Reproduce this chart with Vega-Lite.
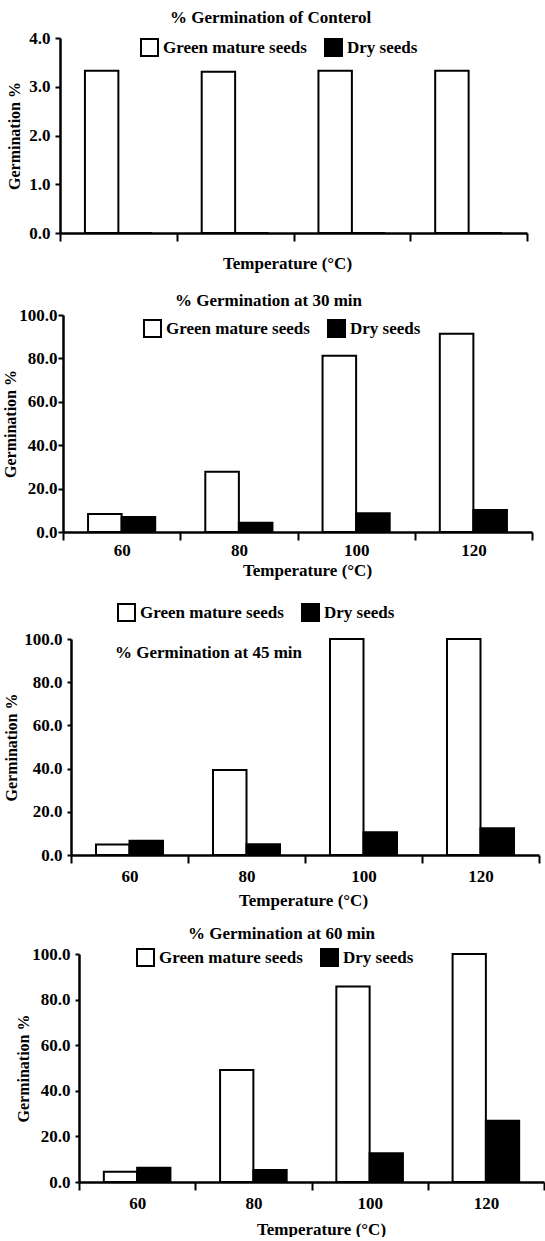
{
  "$schema": "https://vega.github.io/schema/vega-lite/v6.json",
  "background": "white",
  "padding": {"left": 2, "top": 9, "right": 0, "bottom": 0},
  "spacing": 0,
  "bounds": "flush",
  "config": {
    "font": "Liberation Serif",
    "view": {"stroke": null},
    "axis": {
      "domainColor": "black", "domainWidth": 2.5,
      "tickColor": "black", "tickWidth": 2,
      "labelFont": "Liberation Serif", "labelFontWeight": "bold", "labelColor": "black", "labelFontSize": 17,
      "titleFont": "Liberation Serif", "titleFontWeight": "bold", "titleColor": "black", "titleFontSize": 17,
      "grid": false
    },
    "legend": {
      "orient": "none", "direction": "horizontal", "title": null,
      "symbolType": "square", "symbolSize": 289, "symbolStrokeColor": "black", "symbolStrokeWidth": 2,
      "labelFont": "Liberation Serif", "labelFontSize": 17, "labelFontWeight": "bold", "labelColor": "black",
      "labelLimit": 300, "columnPadding": 14, "labelOffset": 4, "padding": 0
    },
    "title": {"font": "Liberation Serif", "fontSize": 17, "fontWeight": "bold", "color": "black", "anchor": "start", "frame": "group", "offset": 0, "baseline": "alphabetic"}
  },
  "data": {"values": [
    {"panel": "control", "temp": 60, "type": "Green mature seeds", "value": 3.33},
    {"panel": "control", "temp": 60, "type": "Dry seeds", "value": 0},
    {"panel": "control", "temp": 80, "type": "Green mature seeds", "value": 3.31},
    {"panel": "control", "temp": 80, "type": "Dry seeds", "value": 0},
    {"panel": "control", "temp": 100, "type": "Green mature seeds", "value": 3.33},
    {"panel": "control", "temp": 100, "type": "Dry seeds", "value": 0},
    {"panel": "control", "temp": 120, "type": "Green mature seeds", "value": 3.33},
    {"panel": "control", "temp": 120, "type": "Dry seeds", "value": 0},
    {"panel": "30", "temp": 60, "type": "Green mature seeds", "value": 8.3},
    {"panel": "30", "temp": 60, "type": "Dry seeds", "value": 6.9},
    {"panel": "30", "temp": 80, "type": "Green mature seeds", "value": 27.8},
    {"panel": "30", "temp": 80, "type": "Dry seeds", "value": 4.3},
    {"panel": "30", "temp": 100, "type": "Green mature seeds", "value": 81.2},
    {"panel": "30", "temp": 100, "type": "Dry seeds", "value": 8.6},
    {"panel": "30", "temp": 120, "type": "Green mature seeds", "value": 91.4},
    {"panel": "30", "temp": 120, "type": "Dry seeds", "value": 10.1},
    {"panel": "45", "temp": 60, "type": "Green mature seeds", "value": 4.9},
    {"panel": "45", "temp": 60, "type": "Dry seeds", "value": 6.6},
    {"panel": "45", "temp": 80, "type": "Green mature seeds", "value": 39.4},
    {"panel": "45", "temp": 80, "type": "Dry seeds", "value": 5.0},
    {"panel": "45", "temp": 100, "type": "Green mature seeds", "value": 100},
    {"panel": "45", "temp": 100, "type": "Dry seeds", "value": 10.5},
    {"panel": "45", "temp": 120, "type": "Green mature seeds", "value": 100},
    {"panel": "45", "temp": 120, "type": "Dry seeds", "value": 12.4},
    {"panel": "60", "temp": 60, "type": "Green mature seeds", "value": 4.5},
    {"panel": "60", "temp": 60, "type": "Dry seeds", "value": 6.3},
    {"panel": "60", "temp": 80, "type": "Green mature seeds", "value": 49.1},
    {"panel": "60", "temp": 80, "type": "Dry seeds", "value": 5.3},
    {"panel": "60", "temp": 100, "type": "Green mature seeds", "value": 85.7},
    {"panel": "60", "temp": 100, "type": "Dry seeds", "value": 12.6},
    {"panel": "60", "temp": 120, "type": "Green mature seeds", "value": 100},
    {"panel": "60", "temp": 120, "type": "Dry seeds", "value": 26.9}
  ]},
  "vconcat": [
    {
      "width": 467, "height": 195,
      "title": {"text": "% Germination of Conterol", "dx": 110, "dy": 2},
      "transform": [{"filter": "datum.panel == 'control'"}],
      "mark": {"type": "bar", "stroke": "black", "strokeWidth": 2},
      "encoding": {
        "x": {"field": "temp", "type": "ordinal",
              "scale": {"range": [0, 467], "paddingInner": 0, "paddingOuter": 0},
              "axis": {"labels": false, "tickBand": "extent", "tickSize": 8, "title": "Temperature (°C)", "titleX": 227, "titleY": 35, "titleBaseline": "alphabetic"}},
        "xOffset": {"field": "type", "type": "nominal", "sort": ["Green mature seeds", "Dry seeds"], "scale": {"paddingInner": 0, "paddingOuter": 0.746}},
        "y": {"field": "value", "type": "quantitative",
              "scale": {"domain": [0, 4], "nice": false, "range": [195, 0]},
              "axis": {"values": [0, 1, 2, 3, 4], "format": ".1f", "tickSize": 5, "labelPadding": 5, "title": "Germination %", "titleFontSize": 16, "titleX": -46, "titleBaseline": "middle"}},
        "fill": {"field": "type", "type": "nominal",
                 "scale": {"domain": ["Green mature seeds", "Dry seeds"], "range": ["white", "black"]},
                 "legend": {"legendX": 80, "legendY": 0}}
      }
    },
    {
      "width": 472, "height": 299,
      "title": {"text": "% Germination at 30 min", "dx": 115, "dy": 81},
      "transform": [{"filter": "datum.panel == '30'"}],
      "mark": {"type": "bar", "stroke": "black", "strokeWidth": 2},
      "encoding": {
        "x": {"field": "temp", "type": "ordinal",
              "scale": {"range": [3, 472], "paddingInner": 0, "paddingOuter": 0},
              "axis": {"labelAngle": 0, "labelBaseline": "alphabetic", "labelPadding": 15, "tickBand": "extent", "tickSize": 8, "title": "Temperature (°C)", "titleX": 247, "titleY": 43, "titleBaseline": "alphabetic"}},
        "xOffset": {"field": "type", "type": "nominal", "sort": ["Green mature seeds", "Dry seeds"], "scale": {"paddingInner": 0, "paddingOuter": 0.746}},
        "y": {"field": "value", "type": "quantitative",
              "scale": {"domain": [0, 100], "nice": false, "range": [299, 82]},
              "axis": {"values": [0, 20, 40, 60, 80, 100], "format": ".1f", "offset": -3, "tickSize": 5, "labelPadding": 1, "title": "Germination %", "titleFontSize": 16, "titleX": -53, "titleBaseline": "middle"}},
        "fill": {"field": "type", "type": "nominal",
                 "scale": {"domain": ["Green mature seeds", "Dry seeds"], "range": ["white", "black"]},
                 "legend": {"legendX": 83, "legendY": 86}}
      }
    },
    {
      "width": 479, "height": 323,
      "title": {"text": "% Germination at 45 min", "dx": 55, "dy": 134},
      "transform": [{"filter": "datum.panel == '45'"}],
      "mark": {"type": "bar", "stroke": "black", "strokeWidth": 2},
      "encoding": {
        "x": {"field": "temp", "type": "ordinal",
              "scale": {"range": [11, 479], "paddingInner": 0, "paddingOuter": 0},
              "axis": {"labelAngle": 0, "labelBaseline": "alphabetic", "labelPadding": 18, "tickBand": "extent", "tickSize": 8, "title": "Temperature (°C)", "titleX": 243, "titleY": 50, "titleBaseline": "alphabetic"}},
        "xOffset": {"field": "type", "type": "nominal", "sort": ["Green mature seeds", "Dry seeds"], "scale": {"paddingInner": 0, "paddingOuter": 0.746}},
        "y": {"field": "value", "type": "quantitative",
              "scale": {"domain": [0, 100], "nice": false, "range": [323, 107]},
              "axis": {"values": [0, 20, 40, 60, 80, 100], "format": ".1f", "offset": -11, "tickSize": 4, "labelPadding": 5, "title": "Germination %", "titleFontSize": 16, "titleX": -60, "titleBaseline": "middle"}},
        "fill": {"field": "type", "type": "nominal",
                 "scale": {"domain": ["Green mature seeds", "Dry seeds"], "range": ["white", "black"]},
                 "legend": {"legendX": 57, "legendY": 71}}
      }
    },
    {
      "width": 484, "height": 327,
      "title": {"text": "% Germination at 60 min", "dx": 128, "dy": 92},
      "transform": [{"filter": "datum.panel == '60'"}],
      "mark": {"type": "bar", "stroke": "black", "strokeWidth": 2},
      "encoding": {
        "x": {"field": "temp", "type": "ordinal",
              "scale": {"range": [19, 484], "paddingInner": 0, "paddingOuter": 0},
              "axis": {"labelAngle": 0, "labelBaseline": "alphabetic", "labelPadding": 18, "tickBand": "extent", "tickSize": 8, "title": "Temperature (°C)", "titleX": 261, "titleY": 52, "titleBaseline": "alphabetic"}},
        "xOffset": {"field": "type", "type": "nominal", "sort": ["Green mature seeds", "Dry seeds"], "scale": {"paddingInner": 0, "paddingOuter": 0.746}},
        "y": {"field": "value", "type": "quantitative",
              "scale": {"domain": [0, 100], "nice": false, "range": [327, 99]},
              "axis": {"values": [0, 20, 40, 60, 80, 100], "format": ".1f", "offset": -19, "tickSize": 4, "labelPadding": 5, "title": "Germination %", "titleFontSize": 16, "titleX": -56, "titleBaseline": "middle"}},
        "fill": {"field": "type", "type": "nominal",
                 "scale": {"domain": ["Green mature seeds", "Dry seeds"], "range": ["white", "black"]},
                 "legend": {"legendX": 76, "legendY": 93}}
      }
    }
  ],
  "resolve": {
    "scale": {"x": "independent", "y": "independent", "xOffset": "independent", "fill": "independent"},
    "axis": {"x": "independent", "y": "independent"},
    "legend": {"fill": "independent"}
  }
}
